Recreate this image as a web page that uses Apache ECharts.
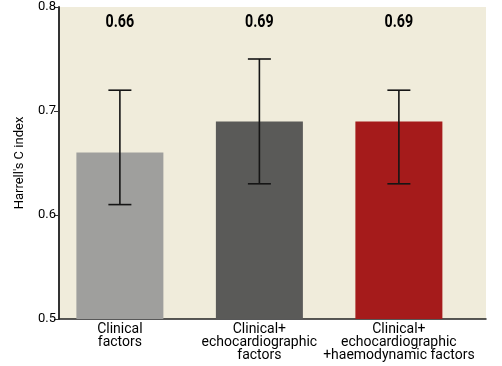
<!DOCTYPE html>
<html><head><meta charset="utf-8">
<script src="https://cdn.jsdelivr.net/npm/echarts@6/dist/echarts.min.js"></script>
<style>html,body{margin:0;padding:0;background:#fff}#c{width:502px;height:366px}</style>
</head><body><div id="c"></div>
<script>
const categories = ['Clinical\nfactors', 'Clinical+\nechocardiographic\nfactors', 'Clinical+\nechocardiographic\n+haemodynamic factors'];
const values = [0.66, 0.69, 0.69];
const lower = [0.61, 0.63, 0.63];
const upper = [0.72, 0.75, 0.72];
const labels = ['0.66', '0.69', '0.69'];
const colors = ['#9f9f9d', '#5a5a58', '#a51b1b'];
const yTicks = [0.5, 0.6, 0.7, 0.8];

const FONT = 'Roboto, "Liberation Sans", sans-serif';
const chart = echarts.init(document.getElementById('c'));
chart.setOption({
  animation: false,
  grid: {left: 59, right: 16, top: 7, bottom: 47, backgroundColor: '#f0ecdb', show: true, borderWidth: 0},
  xAxis: {
    type: 'value', min: -0.4365, max: 2.6245,
    axisLine: {show: true, onZero: false, lineStyle: {color: '#222', width: 1.5}},
    axisTick: {show: false}, axisLabel: {show: false}, splitLine: {show: false}
  },
  yAxis: {
    type: 'value', min: 0.5, max: 0.8, interval: 0.1,
    name: "Harrell's C index", nameLocation: 'middle', nameGap: 33,
    nameTextStyle: {color: '#000', fontSize: 13, fontFamily: FONT},
    axisLine: {show: true, onZero: false, lineStyle: {color: '#333', width: 2}},
    axisTick: {show: true, length: 5, lineStyle: {color: '#333'}},
    splitLine: {show: false},
    axisLabel: {color: '#000', fontSize: 13, fontFamily: FONT, margin: 3,
      formatter: v => { const t = yTicks.find(x => Math.abs(x - v) < 1e-9); return t !== undefined ? t.toFixed(1) : ''; }}
  },
  series: [
    {
      type: 'bar', barWidth: 87,
      data: values.map((v, i) => ({value: [i, v], itemStyle: {color: colors[i]}}))
    },
    {
      type: 'custom',
      data: values.map((v, i) => [i, lower[i], upper[i]]),
      renderItem: (params, api) => {
        const lo = api.coord([api.value(0), api.value(1)]);
        const hi = api.coord([api.value(0), api.value(2)]);
        const hw = 11.5;
        const st = {stroke: '#151515', lineWidth: 1.6};
        return {type: 'group', children: [
          {type: 'line', shape: {x1: lo[0], y1: lo[1], x2: hi[0], y2: hi[1]}, style: st},
          {type: 'line', shape: {x1: lo[0]-hw, y1: lo[1], x2: lo[0]+hw, y2: lo[1]}, style: st},
          {type: 'line', shape: {x1: hi[0]-hw, y1: hi[1], x2: hi[0]+hw, y2: hi[1]}, style: st}
        ]};
      },
      z: 5
    },
    {
      type: 'custom',
      data: values.map((v, i) => [i, 0.7855]),
      renderItem: (params, api) => {
        const p = api.coord([api.value(0), api.value(1)]);
        return {type: 'text', x: p[0], y: p[1], scaleX: 0.75,
          style: {x: 0, y: 0, text: labels[params.dataIndex], align: 'center', verticalAlign: 'middle',
          fill: '#000', font: 'bold 19px ' + FONT}};
      },
      z: 6
    },
    {
      type: 'custom',
      data: values.map((v, i) => [i, 0.5]),
      clip: false,
      renderItem: (params, api) => {
        const p = api.coord([api.value(0), api.value(1)]);
        return {type: 'text', x: p[0], y: p[1] + 4,
          style: {x: 0, y: 0, text: categories[params.dataIndex], align: 'center', verticalAlign: 'top',
          fill: '#000', font: '14px ' + FONT, lineHeight: 13}};
      },
      z: 6
    }
  ]
});
</script></body></html>
